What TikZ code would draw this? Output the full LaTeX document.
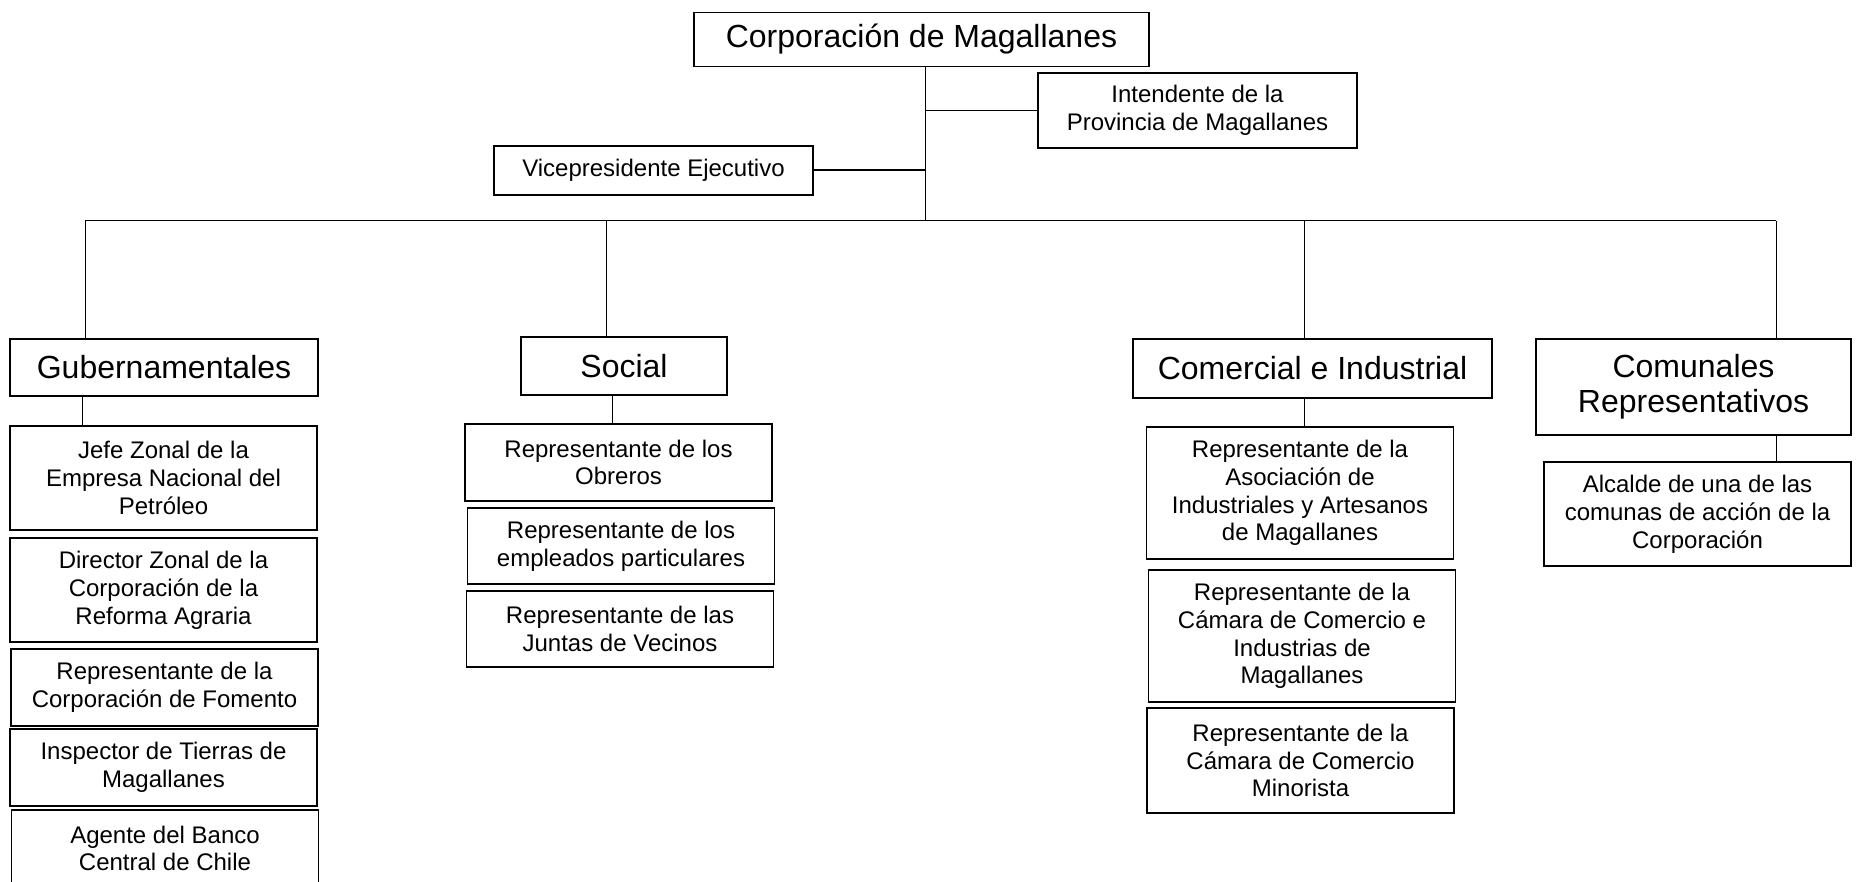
\documentclass[tikz,border=0pt]{standalone}
\usepackage{fontspec}
\setmainfont{Liberation Sans}
\usetikzlibrary{calc,positioning}

\begin{document}
\begin{tikzpicture}[x=0.5pt,y=-0.5pt,
	  every node/.style={align=center,inner sep=0pt},
	  head/.style={draw,line width=0.8pt,font=\fontsize{16}{17.5}\selectfont},
	  member/.style={draw,line width=0.8pt,minimum width=153.5pt,font=\fontsize{12}{13.9}\selectfont},
	  link/.style={draw,line width=0.5pt}]

	  \useasboundingbox (0,0) rectangle (1856,882);

	  % Top of the chart
	  \node[head,minimum width=227.5pt,minimum height=27pt] (corporacion) at (921.5,39.5) {Corporación de Magallanes};
	  \node[member,minimum width=159.5pt,minimum height=37.5pt] (intendente) at (1197.5,110.5) {Intendente de la\\Provincia de Magallanes};
	  \node[member,minimum width=159.5pt,minimum height=24.5pt] (vicepresidente) at (653.5,170.5) {Vicepresidente Ejecutivo};

	  % The four branches
	  \node[head,minimum width=154pt,minimum height=28.5pt] (gubernamentales) at (164,367.5) {Gubernamentales};
	  \node[head,minimum width=103pt,minimum height=29pt] (social) at (624,366) {Social};
	  \node[head,minimum width=179.5pt,minimum height=29.5pt] (comercial) at (1312.5,368.5) {Comercial e Industrial};
	  \node[head,minimum width=157.5pt,minimum height=48pt] (comunales) at (1693.5,387) {Comunales\\Representativos};

	  % Members of each branch
	  \node[member,minimum height=52pt] (jefezonal) at (163.5,478) {Jefe Zonal de la\\Empresa Nacional del\\Petróleo};
	  \node[member,minimum height=52pt] (directorzonal) at (163.5,590) {Director Zonal de la\\Corporación de la\\Reforma Agraria};
	  \node[member,minimum height=38.5pt] (fomento) at (164.5,687.5) {Representante de la\\Corporación de Fomento};
	  \node[member,minimum height=38.5pt] (inspector) at (163.5,767.5) {Inspector de Tierras de\\Magallanes};
	  \node[member,minimum height=38.5pt] (agente) at (165,848.5) {Agente del Banco\\Central de Chile};

	  \node[member,minimum height=38.5pt] (obreros) at (618.5,462.5) {Representante de los\\Obreros};
	  \node[member,minimum height=38pt] (empleados) at (621,546) {Representante de los\\empleados particulares};
	  \node[member,minimum height=38pt] (juntas) at (620,629) {Representante de las\\Juntas de Vecinos};

	  \node[member,minimum height=66pt] (asociacion) at (1300,493) {Representante de la\\Asociación de\\Industriales y Artesanos\\de Magallanes};
	  \node[member,minimum height=66pt] (camara) at (1302,636) {Representante de la\\Cámara de Comercio e\\Industrias de\\Magallanes};
	  \node[member,minimum height=52.5pt] (minorista) at (1300.5,760.5) {Representante de la\\Cámara de Comercio\\Minorista};

	  \node[member,minimum height=52pt] (alcalde) at (1697.5,514) {Alcalde de una de las\\comunas de acción de la\\Corporación};

	  % Connectors
	  \coordinate (trunk) at (925,221);
	  \coordinate (busleft) at (85,221);
	  \coordinate (busright) at (1776,221);
	  \draw[link] (corporacion.south -| trunk) -- (trunk);
	  \draw[link] (intendente.west) -- (intendente.west -| trunk);
	  \draw[link,line width=1pt] (vicepresidente.east) -- (vicepresidente.east -| trunk);
	  \draw[link] (busleft) -- (busright);

	  \foreach \branch/\drop/\first/\sub in {gubernamentales/85/jefezonal/82,social/606/obreros/612,comercial/1304/asociacion/1304,comunales/1776/alcalde/1776}{
	    \coordinate (drop) at (\drop,221);
	    \coordinate (sub) at (\sub,0);
	    \draw[link] (drop) -- (drop |- \branch.north);
	    \draw[link] (sub |- \branch.south) -- (sub |- \first.north);
	  }

\end{tikzpicture}
\end{document}
